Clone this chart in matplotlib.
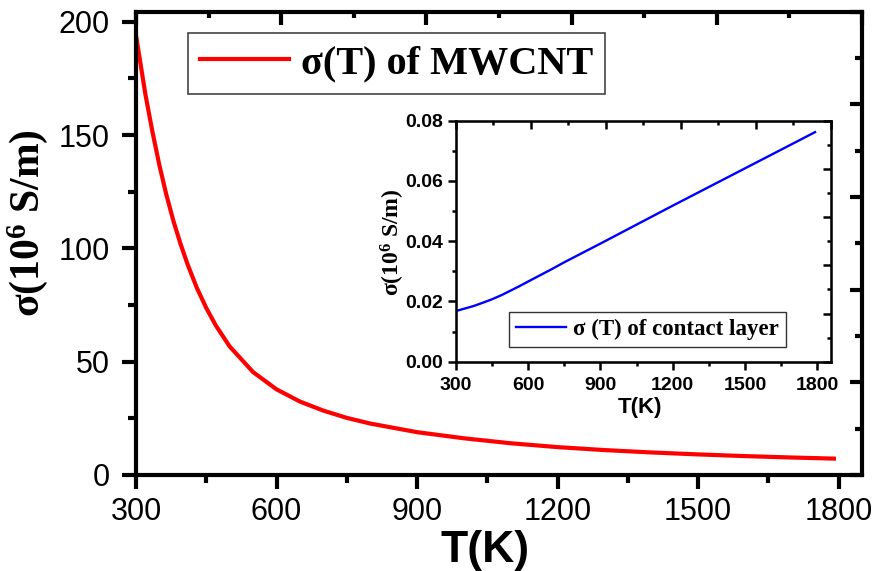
import numpy as np
import matplotlib
matplotlib.use("Agg")
import matplotlib.pyplot as plt
from matplotlib.ticker import MultipleLocator

# -------- DATA --------
T_mwcnt = [300, 310, 320, 335, 350, 365, 380, 395, 410, 430, 450, 470, 500,
           550, 600, 650, 700, 750, 800, 900, 1000, 1100, 1200, 1300, 1400,
           1500, 1600, 1700, 1790]
sigma_mwcnt = [194, 181, 168, 151.5, 136.6, 123.5, 112, 102, 93, 82.5, 73.7,
               66.1, 56.7, 45.4, 37.8, 32.4, 28.4, 25.2, 22.7, 18.9, 16.2,
               14.0, 12.3, 11.0, 9.95, 9.08, 8.34, 7.72, 7.23]

T_contact = [300, 340, 375, 410, 450, 490, 525, 560, 600, 650, 700, 750, 900,
             1050, 1200, 1350, 1500, 1650, 1790]
sigma_contact = [0.0168, 0.0177, 0.0185, 0.0195, 0.0207, 0.0221, 0.0235, 0.0249,
                 0.0266, 0.0287, 0.0308, 0.0330, 0.0392, 0.0455, 0.0518, 0.0580,
                 0.0642, 0.0704, 0.0762]

x_ticks = [300, 600, 900, 1200, 1500, 1800]
main_y_ticks = [0, 50, 100, 150, 200]
inset_y_ticks = [0.00, 0.02, 0.04, 0.06, 0.08]

# -------- STYLE --------
SANS = "Liberation Sans"
SERIF = "Liberation Serif"
plt.rcParams["mathtext.fontset"] = "custom"
plt.rcParams["mathtext.rm"] = "Liberation Serif:bold"
plt.rcParams["mathtext.bf"] = "Liberation Serif:bold"
plt.rcParams["mathtext.it"] = "Liberation Serif:bold"

fig = plt.figure(figsize=(8.75, 5.71), dpi=100)

# -------- MAIN AXES --------
ax = fig.add_axes([136 / 875, 1 - 475 / 571, 726 / 875, 463.3 / 571])
ax.plot(T_mwcnt, sigma_mwcnt, color="red", lw=3, label="σ(T) of MWCNT")
ax.set_xlim(300, 1850)
ax.set_ylim(0, 204.4)
ax.set_xticks(x_ticks)
ax.set_yticks(main_y_ticks)
ax.xaxis.set_minor_locator(MultipleLocator(150))
ax.yaxis.set_minor_locator(MultipleLocator(25))
ax.tick_params(which="major", direction="out", length=10, width=3, labelsize=22)
ax.tick_params(which="minor", direction="out", length=6, width=3)
ax.tick_params(axis="x", which="major", pad=6)
ax.tick_params(axis="y", which="major", pad=9)
for lab in ax.get_xticklabels() + ax.get_yticklabels():
    lab.set_fontfamily(SANS)
for sp in ax.spines.values():
    sp.set_linewidth(3)

ax.set_xlabel("T(K)", fontfamily=SANS, fontweight="bold", fontsize=32)
ax.xaxis.set_label_coords(0.481, -0.118)
ax.set_ylabel("σ(10$^{6}$ S/m)", fontfamily=SERIF, fontweight="bold", fontsize=30)
ax.yaxis.set_label_coords(-0.118, 0.544)

leg = ax.legend(loc="upper left", bbox_to_anchor=(188 / 875, 1 - 33 / 571),
                bbox_transform=fig.transFigure, borderaxespad=0,
                prop={"family": SERIF, "weight": "bold", "size": 29},
                handlelength=2.2, handletextpad=0.3, borderpad=0.3,
                fancybox=False, framealpha=1)
leg.get_frame().set_edgecolor("#444444")
leg.get_frame().set_linewidth(1.2)

# top / right axes: independent scale, 5 major divisions, ticks inward
ax_top = ax.twiny()
ax_top.set_xlim(0, 1)
ax_top.set_xticks(np.linspace(0, 1, 6))
ax_top.xaxis.set_minor_locator(MultipleLocator(0.1))
ax_top.tick_params(axis="x", which="major", direction="in", length=9, width=3,
                   labeltop=False)
ax_top.tick_params(axis="x", which="minor", direction="in", length=4, width=3)
ax_right = ax.twinx()
ax_right.set_ylim(0, 1)
ax_right.set_yticks(np.linspace(0, 1, 6))
ax_right.yaxis.set_minor_locator(MultipleLocator(0.1))
ax_right.tick_params(axis="y", which="major", direction="in", length=9, width=3,
                     labelright=False)
ax_right.tick_params(axis="y", which="minor", direction="in", length=5, width=3)

# -------- INSET --------
ins = fig.add_axes([455.7 / 875, 1 - 361.7 / 571, 375 / 875, 241 / 571])
ins.plot(T_contact, sigma_contact, color="blue", lw=1.7,
         label="σ (T) of contact layer")
ins.set_xlim(300, 1855)
ins.set_ylim(0, 0.08)
ins.set_xticks(x_ticks)
ins.set_yticks(inset_y_ticks)
ins.set_yticklabels([f"{v:.2f}" for v in inset_y_ticks])
ins.xaxis.set_minor_locator(MultipleLocator(150))
ins.yaxis.set_minor_locator(MultipleLocator(0.01))
ins.tick_params(which="major", direction="out", length=6, width=1.8, labelsize=14, pad=3)
ins.tick_params(axis="x", which="major", pad=5)
ins.tick_params(which="minor", direction="out", length=3, width=1.8)
for lab in ins.get_xticklabels() + ins.get_yticklabels():
    lab.set_fontfamily(SANS)
    lab.set_fontweight("bold")
for sp in ins.spines.values():
    sp.set_linewidth(1.8)

ins.set_xlabel("T(K)", fontfamily=SANS, fontweight="bold", fontsize=16)
ins.xaxis.set_label_coords(0.491, -0.147)
ins.set_ylabel("σ(10$^{6}$ S/m)", fontfamily=SERIF, fontweight="bold", fontsize=17)
ins.yaxis.set_label_coords(-0.13, 0.497)

leg2 = ins.legend(loc="upper left", bbox_to_anchor=(509 / 875, 1 - 312 / 571),
                  bbox_transform=fig.transFigure, borderaxespad=0,
                  prop={"family": SERIF, "weight": "bold", "size": 16.5},
                  handlelength=2.2, handletextpad=0.3, borderpad=0.3,
                  fancybox=False, framealpha=1)
leg2.get_frame().set_edgecolor("#333333")
leg2.get_frame().set_linewidth(1.0)

ins_top = ins.twiny()
ins_top.set_xlim(0, 1)
ins_top.set_xticks(np.linspace(0, 1, 6))
ins_top.xaxis.set_minor_locator(MultipleLocator(0.1))
ins_top.tick_params(axis="x", which="major", direction="in", length=6, width=1.8,
                    labeltop=False)
ins_top.tick_params(axis="x", which="minor", direction="in", length=3, width=1.8)
ins_right = ins.twinx()
ins_right.set_ylim(0, 1)
ins_right.set_yticks(np.linspace(0, 1, 6))
ins_right.yaxis.set_minor_locator(MultipleLocator(0.1))
ins_right.tick_params(axis="y", which="major", direction="in", length=6, width=1.8,
                      labelright=False)
ins_right.tick_params(axis="y", which="minor", direction="in", length=3, width=1.8)

fig.savefig("out.png", dpi=100)
